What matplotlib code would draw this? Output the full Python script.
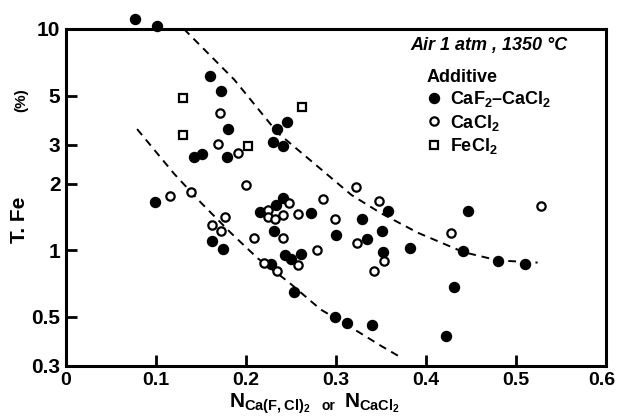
import matplotlib
matplotlib.use("Agg")
from matplotlib import pyplot as plt
from matplotlib.lines import Line2D
from matplotlib.transforms import ScaledTranslation
import numpy as np

plt.rcParams["font.family"] = ["Liberation Sans", "DejaVu Sans"]
plt.rcParams["font.weight"] = "bold"
plt.rcParams["mathtext.fontset"] = "custom"
plt.rcParams["mathtext.bf"] = "Liberation Sans:bold"
plt.rcParams["mathtext.rm"] = "Liberation Sans:bold"
plt.rcParams["mathtext.default"] = "bf"

# CaF2-CaCl2 (filled circles)
caf2_x = [0.077, 0.101, 0.099, 0.160, 0.172, 0.180, 0.142, 0.151, 0.179, 0.234, 0.246,
          0.230, 0.241, 0.241, 0.233, 0.216, 0.272, 0.231, 0.162, 0.174, 0.243, 0.261,
          0.250, 0.228, 0.253, 0.329, 0.358, 0.300, 0.334, 0.351, 0.352, 0.382, 0.447,
          0.441, 0.480, 0.510, 0.431, 0.422, 0.299, 0.312, 0.340]
caf2_y = [11.1, 10.3, 1.65, 6.13, 5.25, 3.53, 2.64, 2.72, 2.64, 3.53, 3.80,
          3.09, 2.96, 1.72, 1.60, 1.49, 1.47, 1.22, 1.10, 1.01, 0.95, 0.96,
          0.91, 0.87, 0.65, 1.38, 1.50, 1.17, 1.12, 1.22, 0.98, 1.02, 1.50,
          0.99, 0.89, 0.87, 0.68, 0.41, 0.50, 0.47, 0.46]

# CaCl2 (open circles)
cacl2_x = [0.171, 0.169, 0.191, 0.200, 0.115, 0.139, 0.162, 0.177, 0.172, 0.248,
           0.224, 0.224, 0.232, 0.241, 0.258, 0.286, 0.209, 0.241, 0.279, 0.220,
           0.234, 0.258, 0.322, 0.348, 0.299, 0.323, 0.353, 0.342, 0.528, 0.428]
cacl2_y = [4.17, 3.02, 2.75, 1.97, 1.76, 1.84, 1.30, 1.41, 1.22, 1.64,
           1.52, 1.41, 1.38, 1.44, 1.46, 1.71, 1.14, 1.14, 1.00, 0.88,
           0.81, 0.86, 1.93, 1.67, 1.38, 1.08, 0.89, 0.81, 1.59, 1.20]

# FeCl2 (open squares)
fecl2_x = [0.130, 0.130, 0.202, 0.262]
fecl2_y = [4.88, 3.32, 2.96, 4.44]

# dashed guide curves
upper_x = [0.131, 0.187, 0.235, 0.283, 0.317, 0.350, 0.391, 0.442, 0.480, 0.524]
upper_y = [10.0, 5.9, 3.4, 2.33, 1.78, 1.47, 1.20, 0.98, 0.90, 0.88]
lower_x = [0.079, 0.120, 0.150, 0.183, 0.213, 0.247, 0.283, 0.320, 0.350, 0.371]
lower_y = [3.53, 2.22, 1.64, 1.20, 0.92, 0.72, 0.54, 0.44, 0.37, 0.33]

yticks = [0.3, 0.5, 1, 2, 3, 5, 10]
ytick_labels = ["0.3", "0.5", "1", "2", "3", "5", "10"]
xticks = [0, 0.1, 0.2, 0.3, 0.4, 0.5, 0.6]
xtick_labels = ["0", "0.1", "0.2", "0.3", "0.4", "0.5", "0.6"]

fig = plt.figure(figsize=(6.18, 4.19), dpi=100)
ax = fig.add_axes([0.1068, 0.1265, 0.8738, 0.8043])
ax.set_yscale("log")
ax.set_xlim(0, 0.6)
ax.set_ylim(0.3, 10)

ax.plot(upper_x, upper_y, "k--", lw=1.4, dashes=(4, 3))
ax.plot(lower_x, lower_y, "k--", lw=1.4, dashes=(4, 3))

ax.plot(caf2_x, caf2_y, "o", color="black", ms=7.2, ls="none", clip_on=False, zorder=5)
ax.plot(cacl2_x, cacl2_y, "o", mfc="white", mec="black", mew=1.6, ms=6.0, ls="none", zorder=5)
ax.plot(fecl2_x, fecl2_y, "s", mfc="white", mec="black", mew=1.6, ms=6.0, ls="none", zorder=5)

ax.set_yticks(yticks)
ax.set_yticklabels(ytick_labels)
ax.yaxis.set_minor_locator(matplotlib.ticker.NullLocator())
ax.set_xticks(xticks)
ax.set_xticklabels(xtick_labels)
ax.tick_params(direction="in", length=8, width=2, pad=4)
ax.tick_params(axis="y", labelsize=15)
ax.tick_params(axis="x", labelsize=14, pad=4)
for lbl in ax.get_xticklabels() + ax.get_yticklabels():
    lbl.set_fontweight("bold")
last = ax.get_xticklabels()[-1]
last.set_transform(last.get_transform() + ScaledTranslation(-4 / 100, 0, fig.dpi_scale_trans))
for sp in ax.spines.values():
    sp.set_linewidth(2.2)

fig.text(0.032, 0.475, "T. Fe", rotation=90, fontsize=15, fontweight="bold", ha="center", va="center")
fig.text(0.034, 0.76, "(%)", rotation=90, fontsize=11, fontweight="bold", ha="center", va="center")

fig.text(0.503, 0.028, r"$\mathbf{N}_{\mathbf{Ca(F,Cl)_2}}$", fontsize=15, ha="right", va="baseline")
fig.text(0.532, 0.022, "or", fontsize=10, ha="center", va="baseline", fontweight="bold")
fig.text(0.556, 0.028, r"$\mathbf{N}_{\mathbf{CaCl_2}}$", fontsize=15, ha="left", va="baseline")

ax.text(0.928, 0.975, "Air 1 atm , 1350 °C", transform=ax.transAxes, ha="right", va="top",
        fontsize=13, fontweight="bold", style="italic")

handles = [
    Line2D([], [], marker="o", color="black", ms=7.2, ls="none"),
    Line2D([], [], marker="o", mfc="white", mec="black", mew=1.6, ms=6.0, ls="none"),
    Line2D([], [], marker="s", mfc="white", mec="black", mew=1.6, ms=6.0, ls="none"),
]
labels = [r"CaF$_2$–CaCl$_2$", r"CaCl$_2$", r"FeCl$_2$"]
leg = ax.legend(handles, labels, title="Additive", loc="upper left", bbox_to_anchor=(0.645, 0.92),
                frameon=False, fontsize=13, title_fontsize=13, handlelength=0.8,
                handletextpad=0.5, labelspacing=0.2, borderpad=0.2, alignment="left")
leg.get_title().set_fontweight("bold")

fig.savefig("out.png", dpi=100)
